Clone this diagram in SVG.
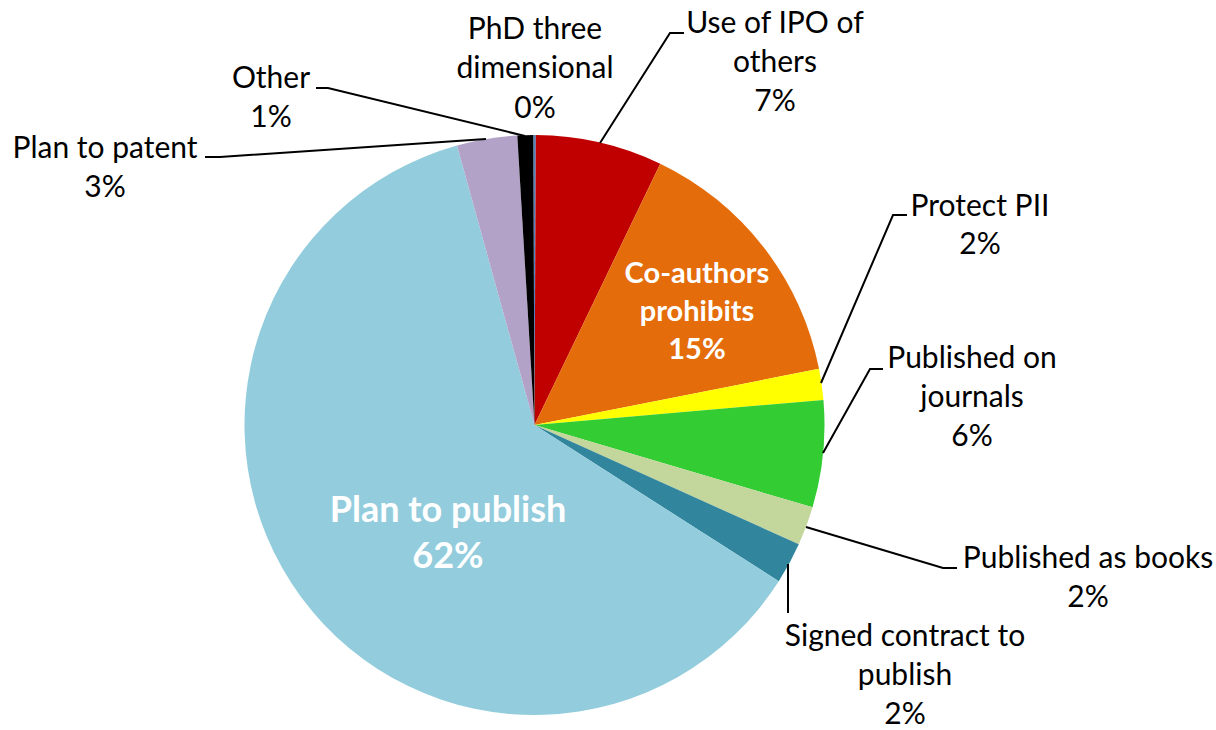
<svg xmlns="http://www.w3.org/2000/svg" width="1216" height="730" viewBox="0 0 1216 730">
<style>
text{font-family:Lato,"Liberation Sans",sans-serif;text-anchor:middle}
.lbl{font-size:30px;fill:#000}
.in{font-weight:bold;fill:#fff}
.lead{fill:none;stroke:#000;stroke-width:2}
</style>
<rect width="1216" height="730" fill="#fff"/>
<g id="slices">
<path id="s-phd" d="M534.5,425 L533.23,135 A290,290 0 0 1 535.77,135 Z" fill="#4F81BD"/>
<path id="s-ipo" d="M534.5,425 L535.77,135 A290,290 0 0 1 660.26,163.69 Z" fill="#C00000"/>
<path id="s-coauth" d="M534.5,425 L660.26,163.69 A290,290 0 0 1 819.02,368.87 Z" fill="#E46C0A"/>
<path id="s-pii" d="M534.5,425 L819.02,368.87 A290,290 0 0 1 823.42,399.93 Z" fill="#FFFF00"/>
<path id="s-journals" d="M534.5,425 L823.42,399.93 A290,290 0 0 1 812.56,507.37 Z" fill="#33CC33"/>
<path id="s-books" d="M534.5,425 L812.56,507.37 A290,290 0 0 1 798.81,544.34 Z" fill="#C3D69B"/>
<path id="s-signed" d="M534.5,425 L798.81,544.34 A290,290 0 0 1 778.77,581.30 Z" fill="#31859C"/>
<path id="s-publish" d="M534.5,425 L778.77,581.30 A290,290 0 1 1 457.00,145.55 Z" fill="#93CDDD"/>
<path id="s-patent" d="M534.5,425 L457.00,145.55 A290,290 0 0 1 517.30,135.51 Z" fill="#B3A2C7"/>
<path id="s-other" d="M534.5,425 L517.30,135.51 A290,290 0 0 1 533.23,135 Z" fill="#000000"/>
</g>
<g id="connectors">
<polyline class="lead" points="600,143 670,33 684,33"/>
<polyline class="lead" points="821,383 893,215 907,215"/>
<polyline class="lead" points="823,453 870,369 883,369"/>
<polyline class="lead" points="806,527 943,568 957,568"/>
<polyline class="lead" points="788,564 788,613"/>
<polyline class="lead" points="525,136 328,88 316,88"/>
<polyline class="lead" points="486,139 220,157 205,157"/>
</g>
<g id="n-phd" class="lbl"><text x="535" y="39">PhD three</text><text x="535" y="78">dimensional</text><text x="535" y="118">0%</text></g>
<g id="n-ipo" class="lbl"><text x="775" y="33">Use of IPO of</text><text x="775" y="72">others</text><text x="775" y="111">7%</text></g>
<g id="n-other" class="lbl"><text x="271" y="88">Other</text><text x="271" y="127">1%</text></g>
<g id="n-patent" class="lbl"><text x="105" y="158">Plan to patent</text><text x="105" y="197">3%</text></g>
<g id="n-pii" class="lbl"><text x="980" y="216">Protect PII</text><text x="980" y="254">2%</text></g>
<g id="n-journals" class="lbl"><text x="972" y="368">Published on</text><text x="972" y="407">journals</text><text x="972" y="446">6%</text></g>
<g id="n-books" class="lbl"><text x="1088" y="568">Published as books</text><text x="1088" y="607">2%</text></g>
<g id="n-signed" class="lbl"><text x="905" y="646">Signed contract to</text><text x="905" y="685">publish</text><text x="905" y="724">2%</text></g>
<g id="n-coauth" class="in" font-size="29"><text x="697" y="283">Co-authors</text><text x="697" y="321">prohibits</text><text x="697" y="359">15%</text></g>
<g id="n-publish" class="in" font-size="36"><text x="448" y="522">Plan to publish</text><text x="448" y="568">62%</text></g>
</svg>
